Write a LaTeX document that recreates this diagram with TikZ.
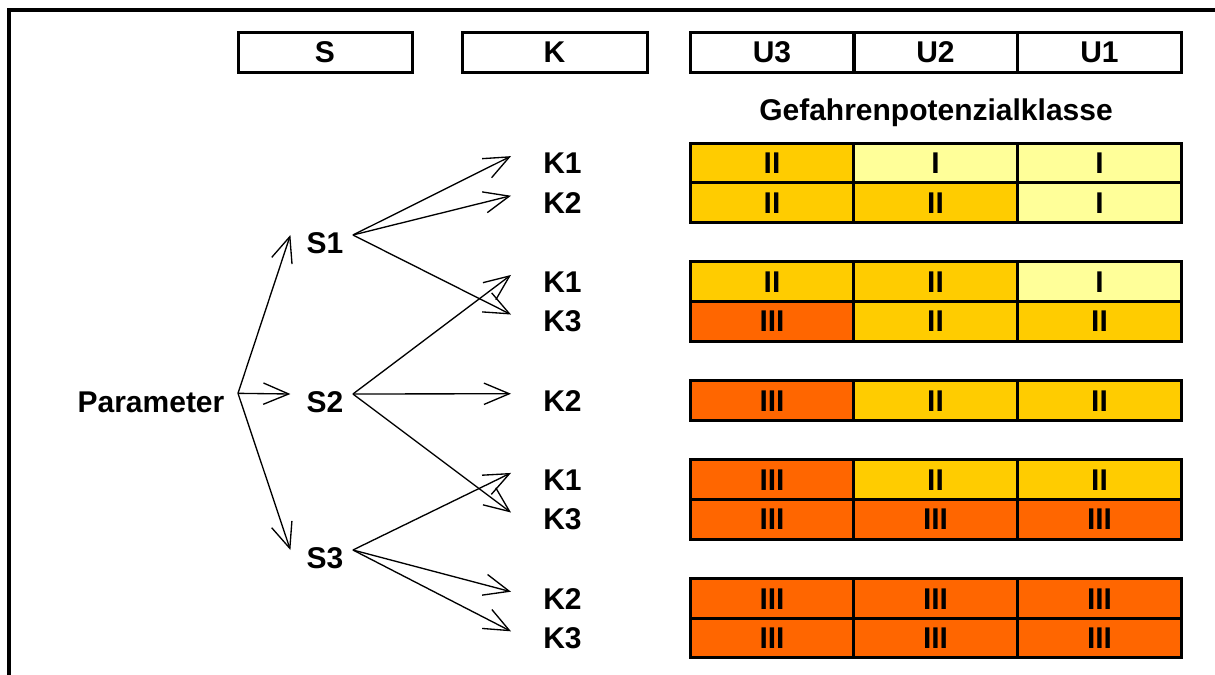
\documentclass[tikz,border=0pt]{standalone}
\usepackage{fontspec}
\setmainfont{Liberation Sans}
\usepackage{tikz}
\usetikzlibrary{arrows.meta}
\definecolor{klI}{HTML}{FFFF99}
\definecolor{klII}{HTML}{FFCC00}
\definecolor{klIII}{HTML}{FF6600}
\tikzset{
  lbl/.style={font=\bfseries\fontsize{22.5}{27}\selectfont,inner sep=0pt,text height=16pt,text depth=0pt},
  kopf/.style={lbl,draw,line width=2.25pt,minimum height=30pt},
  cell/.style={lbl,draw,line width=2.25pt,minimum width=123pt,minimum height=29.7pt},
  klasse/.style={fill=kl#1},
  pfeil/.style={line width=1pt,-{Straight Barb[length=19pt,width=16pt,line width=1pt]}},
}
\begin{document}
\begin{tikzpicture}[x=0.75pt,y=-0.75pt]
\useasboundingbox (0,0) rectangle (1215,675);
\draw[line width=2.4pt] (9,700) -- (9,10) -- (1240,10);

\node[kopf,minimum width=130.5pt] (hs) at (325,52) {S};
\node[kopf,minimum width=138.75pt] (hk) at (554.5,52) {K};
\node[kopf,minimum width=123pt] (hu3) at (772,52) {U3};
\node[kopf,minimum width=123pt] (hu2) at (935.5,52) {U2};
\node[kopf,minimum width=123pt] (hu1) at (1099.5,52) {U1};
\node[lbl] (gpk) at (936,110) {Gefahrenpotenzialklasse};

\node[lbl] (par) at (151,402) {Parameter};
\node[lbl] (s1) at (325,243) {S1};
\node[lbl] (s2) at (325,402) {S2};
\node[lbl] (s3) at (325,558) {S3};
\foreach \s in {1,2,3} {
  \coordinate (s\s-in) at ([xshift=-12pt,yshift=6pt]s\s.west);
  \coordinate (s\s-out) at ([xshift=7pt,yshift=6pt]s\s.east);
}
\coordinate (pj) at ([xshift=10pt,yshift=6.5pt]par.east);

\foreach \s/\k in {0/K1,1/K2,3/K1,4/K3,6/K2,8/K1,9/K3,11/K2,12/K3} {
  \node[lbl,anchor=west] (k\s) at (543,{143+(\s+0.5)*39.6}) {\k};
  \coordinate (k\s-in) at ([xshift=-24pt,yshift=5pt]k\s.west);
}

\foreach \s/\a/\b/\c in {0/II/I/I,1/II/II/I,3/II/II/I,4/III/II/II,6/III/II/II,
    8/III/II/II,9/III/III/III,11/III/III/III,12/III/III/III} {
  \node[cell,klasse=\a] (z\s-3) at (772,{143+(\s+0.5)*39.6}) {\a};
  \node[cell,klasse=\b] (z\s-2) at (935.5,{143+(\s+0.5)*39.6}) {\b};
  \node[cell,klasse=\c] (z\s-1) at (1099.5,{143+(\s+0.5)*39.6}) {\c};
}

\foreach \s in {1,2,3}
  \draw[pfeil] (pj) -- (s\s-in);
\foreach \k in {0,1,4}
  \draw[pfeil] (s1-out) -- (k\k-in);
\foreach \k in {3,6,9}
  \draw[pfeil] (s2-out) -- (k\k-in);
\foreach \k in {8,11,12}
  \draw[pfeil] (s3-out) -- (k\k-in);
\end{tikzpicture}
\end{document}
